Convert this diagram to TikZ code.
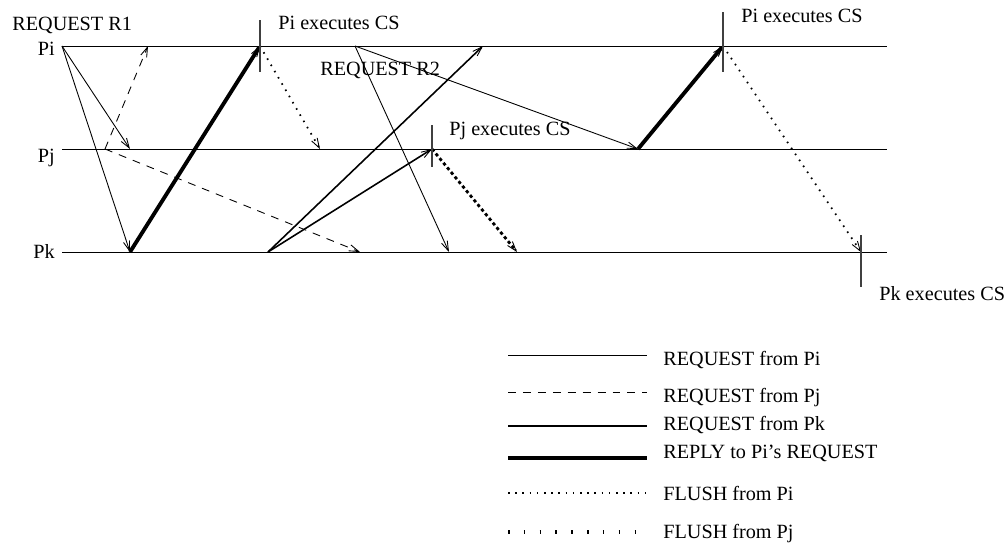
\documentclass[tikz,border=0pt]{standalone}
\usepackage{fontspec}
\setmainfont{Liberation Serif}
\usetikzlibrary{arrows.meta}

\tikzset{
  msg/.style={-{Straight Barb[length=5.5pt,width=3.6pt,line width=0.5pt]}},
  reqpi/.style={line width=0.5pt},
  reqpj/.style={line width=0.5pt, dash pattern=on 4.5pt off 4pt},
  reqpk/.style={line width=0.9pt},
  reply/.style={line width=2.2pt},
  flushpi/.style={line width=1pt, dash pattern=on 0.9pt off 3.2pt},
  flushpj/.style={line width=1.6pt, dash pattern=on 1.8pt off 1.6pt},
  flushpjkey/.style={line width=2.6pt, dash pattern=on 0.9pt off 8.1pt},
  proc/.style={line width=0.5pt},
  csmark/.style={line width=0.6pt, black!75},
  lbl/.style={font=\fontsize{11.5}{13}\selectfont, inner sep=0pt}
}

\begin{document}
\begin{tikzpicture}[x=0.02cm, y=-0.02cm]
    \useasboundingbox (0,0) rectangle (1008,542);

    % --- 1. process lines Pi, Pj, Pk ---
    \def\yi{46}
    \def\yj{149}
    \def\yk{252}
    \coordinate (i0) at (62,\yi);   \coordinate (iend) at (887,\yi);
    \coordinate (j0) at (62,\yj);   \coordinate (jend) at (887,\yj);
    \coordinate (k0) at (62,\yk);   \coordinate (kend) at (887,\yk);
    \draw[proc] (i0) -- (iend);
    \draw[proc] (j0) -- (jend);
    \draw[proc] (k0) -- (kend);
    \node[lbl, anchor=base east] (Pi) at (55,55) {Pi};
    \node[lbl, anchor=base east] (Pj) at (55,162) {Pj};
    \node[lbl, anchor=base east] (Pk) at (55,258) {Pk};

    % --- 2. events on each line ---
    \coordinate (ia) at (148,\yi);
    \coordinate (iCSa) at (260,\yi);
    \coordinate (ib) at (355,\yi);
    \coordinate (ic) at (483,\yi);
    \coordinate (iCSb) at (723,\yi);
    \coordinate (ja) at (105,\yj);
    \coordinate (jb) at (130,\yj);
    \coordinate (jc) at (320,\yj);
    \coordinate (jCS) at (432,\yj);
    \coordinate (jd) at (638,\yj);
    \coordinate (ka) at (130,\yk);
    \coordinate (kb) at (268,\yk);
    \coordinate (kc) at (360,\yk);
    \coordinate (kd) at (449,\yk);
    \coordinate (ke) at (517,\yk);
    \coordinate (kCS) at (861,\yk);

    % --- 3. messages ---
    \draw[msg, reqpi] (i0) -- (jb);
    \draw[msg, reqpi] (i0) -- (ka);
    \draw[msg, reqpj] (ja) -- (ia);
    \draw[msg, reqpj] (ja) -- (kc);
    \draw[msg, reply] (ka) -- (iCSa);
    \draw[msg, flushpi] (iCSa) -- (jc);
    \draw[msg, reqpk] (kb) -- (ic);
    \draw[msg, reqpk] (kb) -- (jCS);
    \draw[msg, reqpi] (ib) -- (kd);
    \draw[msg, reqpi] (ib) -- (jd);
    \draw[msg, flushpj] (jCS) -- (ke);
    \draw[msg, reply] (jd) -- (iCSb);
    \draw[msg, flushpi] (iCSb) -- (kCS);

    % --- 4. CS marks and labels ---
    \draw[csmark] (iCSa) ++(0,-26) -- ++(0,52);
    \draw[csmark] (iCSb) ++(0,-34) -- ++(0,60);
    \draw[csmark] (jCS) ++(0,-24) -- ++(0,42);
    \draw[csmark] (kCS) ++(0,-17) -- ++(0,52);
    \node[lbl, anchor=base west] (csia) at (278,29) {Pi executes CS};
    \node[lbl, anchor=base west] (csib) at (741,22) {Pi executes CS};
    \node[lbl, anchor=base west] (csj) at (449,135) {Pj executes CS};
    \node[lbl, anchor=base west] (csk) at (879,300) {Pk executes CS};
    \node[lbl, anchor=base west] (rone) at (12,30) {REQUEST R1};
    \node[lbl, anchor=base west] (rtwo) at (320,75) {REQUEST R2};

    % --- 5. legend ---
    \foreach \sty/\ly/\ty/\txt in {reqpi/355/365/REQUEST from Pi,
                                   reqpj/392/402/REQUEST from Pj,
                                   reqpk/426/430/REQUEST from Pk,
                                   reply/458/458/REPLY to Pi's REQUEST,
                                   flushpi/493/500/FLUSH from Pi,
                                   flushpjkey/532/538/FLUSH from Pj} {
      \coordinate (la\ly) at (508,\ly);
      \coordinate (lb\ly) at (647,\ly);
      \draw[\sty] (la\ly) -- (lb\ly);
      \node[lbl, anchor=base west] (lt\ly) at (663,\ty) {\txt};
    }
\end{tikzpicture}
\end{document}
